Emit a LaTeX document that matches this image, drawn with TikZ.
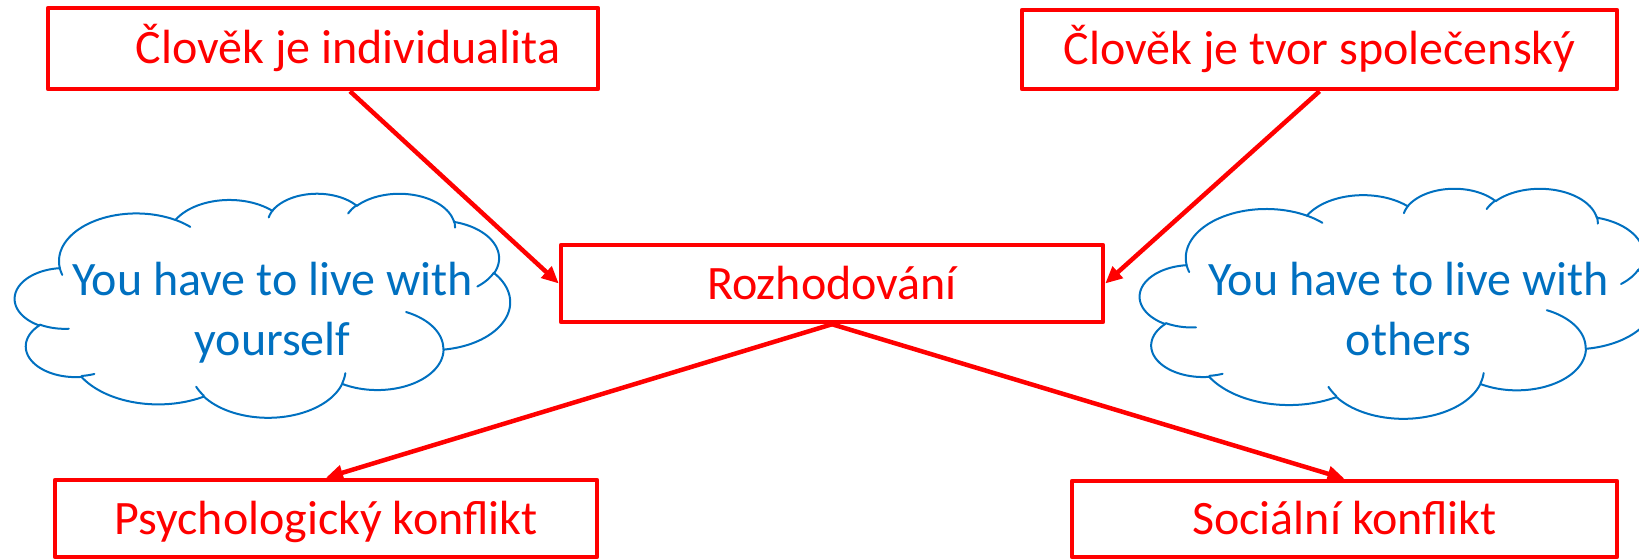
\documentclass[tikz,border=0pt]{standalone}
\usepackage{fontspec}
\setmainfont{Carlito}
\usetikzlibrary{arrows.meta}
\definecolor{pred}{RGB}{255,0,0}
\definecolor{pblue}{RGB}{0,112,192}
\tikzset{
  redbox/.style={draw=pred, line width=4.5pt, line join=round, text=pred, inner sep=0pt,
    text height=31pt, text depth=0pt, font=\fontsize{48}{58}\selectfont},
  redarrow/.style={draw=pred, line width=4.5pt, -{Triangle[length=17pt,width=15pt]}},
  cloudline/.style={draw=pblue, line width=2pt, line cap=round, line join=round},
  cloudtext/.style={text=pblue, align=center, font=\fontsize{48}{60}\selectfont, inner sep=0pt}
}
% current point of the cloud outline (units: 1/100 of the 43200 grid)
\newcommand\oocur[2]{\pgfmathsetmacro\ocx{#1}\pgfmathsetmacro\ocy{#2}}
% elliptical arc: x radius, y radius, start angle, sweep (visual angles, y down)
\newcommand\ooarc[4]{%
  \pgfmathsetmacro\oA{#3}%
  \pgfmathsetmacro\oB{#3+#4}%
  \pgfmathsetmacro\tA{atan2(#1*sin(\oA),#2*cos(\oA))}%
  \pgfmathsetmacro\tB{atan2(#1*sin(\oB),#2*cos(\oB))}%
  \pgfmathsetmacro\dT{mod(\tB-\tA+720,360)}%
  \pgfmathsetmacro\tE{\tA+\dT}%
  \pgfmathsetmacro\ecx{\ocx-#1*cos(\tA)}%
  \pgfmathsetmacro\ecy{\ocy-#2*sin(\tA)}%
  \draw[cloudline] plot[domain=\tA:\tE, samples=40, variable=\ooq]
     ({\ecx+#1*cos(\ooq)},{\ecy+#2*sin(\ooq)});%
  \pgfmathsetmacro\ocx{\ecx+#1*cos(\tE)}%
  \pgfmathsetmacro\ocy{\ecy+#2*sin(\tE)}%
}
\newcommand\oocloud{%
  \oocur{39.00}{143.70}%
  \ooarc{67.53}{91.90}{-190.4875}{123.7805}%
  \ooarc{53.33}{72.67}{-144.1024}{89.9452}%
  \ooarc{43.65}{59.45}{-145.8079}{99.7230}%
  \ooarc{48.57}{65.95}{-130.9861}{117.2417}%
  \ooarc{53.33}{72.73}{-78.7089}{109.0269}%
  \ooarc{67.75}{92.20}{-46.2673}{130.2690}%
  \ooarc{57.85}{78.67}{0.6250}{114.0333}%
  \ooarc{67.52}{92.15}{22.4516}{115.1726}%
  \ooarc{77.20}{105.43}{66.2426}{75.7110}%
  \ooarc{43.60}{59.18}{-274.9421}{146.7356}%
  \ooarc{43.45}{59.45}{-246.8285}{152.5189}%
  \oocur{46.93}{261.77}\ooarc{43.45}{59.45}{86.7420}{26.4295}%
  \oocur{69.28}{348.99}\ooarc{43.60}{59.18}{73.6105}{11.4475}%
  \oocur{164.78}{390.90}\ooarc{67.52}{92.15}{137.6242}{14.0811}%
  \oocur{288.27}{347.51}\ooarc{67.52}{92.15}{6.4533}{15.9984}%
  \oocur{341.29}{229.54}\ooarc{57.85}{78.67}{-70.2924}{70.9174}%
  \oocur{417.98}{153.54}\ooarc{53.33}{72.73}{30.3180}{27.7515}%
  \oocur{383.24}{54.26}\ooarc{48.57}{65.95}{-13.7443}{14.8589}%
  \oocur{290.78}{39.52}\ooarc{48.57}{65.95}{-149.1815}{18.1954}%
  \oocur{221.41}{47.20}\ooarc{43.65}{59.45}{-163.4943}{17.6864}%
  \oocur{140.00}{51.92}\ooarc{67.53}{91.90}{-66.7070}{12.3194}%
  \oocur{41.27}{157.89}\ooarc{67.53}{91.90}{157.6544}{11.8582}%
}
\begin{document}
\begin{tikzpicture}[x=1pt, y=-1pt]
\useasboundingbox (0,0) rectangle (1639,559);
\clip (0,0) rectangle (1639,559);
% clouds
\begin{scope}[shift={(15,193)}, xscale=495/432, yscale=224/432]
  \oocloud
\end{scope}
\begin{scope}[shift={(1140,188)}, xscale=515/432, yscale=230/432]
  \oocloud
\end{scope}
\node[cloudtext] (t1) at (272.5,312) {\rule{0pt}{40pt}You have to live with\\yourself\rule[-14pt]{0pt}{14pt}};
\node[cloudtext] (t2) at (1408.5,312) {\rule{0pt}{40pt}You have to live with\\others\rule[-14pt]{0pt}{14pt}};
% boxes
\node[redbox, minimum width=550pt, minimum height=81pt] (b1) at (323,48.5) {\hspace*{50pt}Člověk je individualita};
\node[redbox, minimum width=595pt, minimum height=79pt] (b2) at (1319.5,49.5) {Člověk je tvor společenský};
\node[redbox, minimum width=542pt, minimum height=77pt] (c) at (832,283.5) {Rozhodování};
\node[redbox, minimum width=542pt, minimum height=77pt] (p) at (326,518.5) {Psychologický konflikt};
\node[redbox, minimum width=545pt, minimum height=76pt] (s) at (1344.5,519) {Sociální konflikt};
% connectors
\draw[redarrow] ([xshift=27pt]b1.south) -- (c.west);
\draw[redarrow] (b2.south) -- (c.east);
\draw[redarrow] (c.south) -- (p.north);
\draw[redarrow] (c.south) -- (s.north);
\end{tikzpicture}
\end{document}
